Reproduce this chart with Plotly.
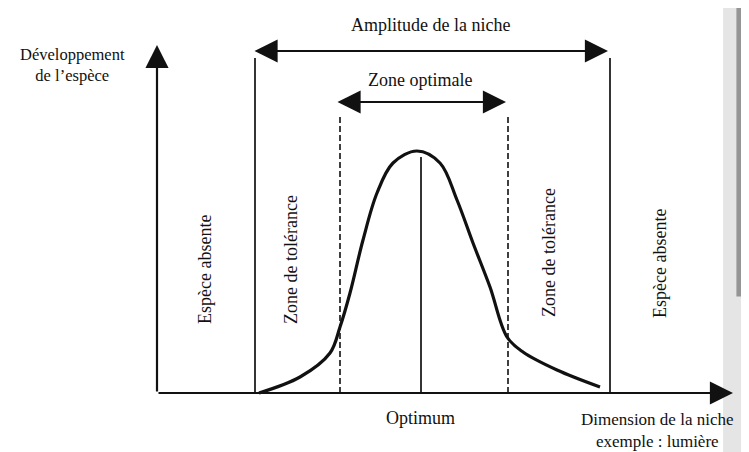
import plotly.graph_objects as go

# ---- data (diagram units: x = niche dimension, y = species development) ----
curve_x = [102, 143, 173, 183, 193, 206, 220, 236, 260, 283, 300, 316, 333, 350, 366, 400, 443]
curve_y = [0, 16, 40, 66, 100, 153, 200, 230, 242, 230, 193, 150, 106, 56, 41, 23, 6]

niche_bounds = [98, 453]        # limits of the niche amplitude
niche_top = 335
optimal_bounds = [183, 351]     # limits of the optimal zone
optimal_top = 278
optimum_x = 264
optimum_top = 236
axis_x_end = 576
axis_y_end = 348
niche_arrow_y = 342
optimal_arrow_y = 291

zone_labels = ["Espèce absente", "Zone de tolérance", "Zone de tolérance", "Espèce absente"]
zone_label_x = [48, 134, 392, 503]
zone_label_y = [123, 133, 140, 129]

FONT = "Liberation Serif"
INK = "#111111"

fig = go.Figure()

fig.add_trace(go.Scatter(
    x=curve_x, y=curve_y, mode="lines",
    line=dict(color=INK, width=3.2, shape="spline", smoothing=1.0),
    hoverinfo="skip", showlegend=False,
))

shapes = []
for xb in niche_bounds:
    shapes.append(dict(type="line", x0=xb, x1=xb, y0=0, y1=niche_top,
                       line=dict(color=INK, width=1.7)))
for xb in optimal_bounds:
    shapes.append(dict(type="line", x0=xb, x1=xb, y0=0, y1=optimal_top,
                       line=dict(color=INK, width=1.6, dash="6px,3px")))
shapes.append(dict(type="line", x0=optimum_x, x1=optimum_x, y0=0, y1=optimum_top,
                   line=dict(color=INK, width=1.7)))
# scan shadow at right edge
shapes.append(dict(type="rect", xref="paper", yref="paper", x0=0.965, x1=1.0, y0=0, y1=1,
                   fillcolor="rgba(0,0,0,0.10)", line=dict(width=0), layer="below"))
shapes.append(dict(type="rect", xref="paper", yref="paper", x0=0.983, x1=0.997, y0=0.35, y1=1,
                   fillcolor="rgba(0,0,0,0.35)", line=dict(width=0), layer="below"))

annotations = []

def arrow(x0, y0, x1, y1, both=False):
    d = dict(x=x1, y=y1, ax=x0, ay=y0, xref="x", yref="y", axref="x", ayref="y",
             showarrow=True, arrowhead=2, arrowsize=2.1, arrowwidth=2.2,
             arrowcolor=INK, text="")
    if both:
        d.update(arrowside="end+start", startarrowhead=2, startarrowsize=2.1)
    return d

annotations.append(arrow(0, 0, axis_x_end, 0))
annotations.append(arrow(0, 0, 0, axis_y_end))
annotations.append(arrow(niche_bounds[0] - 2, niche_arrow_y, niche_bounds[1] - 2, niche_arrow_y, both=True))
annotations.append(arrow(optimal_bounds[0] - 4, optimal_arrow_y, optimal_bounds[1] - 2, optimal_arrow_y, both=True))

def label(text, x, y, angle=0, align="center", size=18):
    return dict(x=x, y=y, xref="x", yref="y", text=text, showarrow=False,
                textangle=angle, align=align,
                font=dict(family=FONT, size=size, color=INK))

annotations.append(label("Amplitude de la niche", 273, 368))
annotations.append(label("Zone optimale", 263, 313))
annotations.append(label("Développement<br>de l’espèce", -85, 328, size=16.5))
annotations.append(label("Optimum", 263, -25))
annotations.append(label("Dimension de la niche<br>exemple : lumière", 500, -37, size=17))
for t, xx, yy in zip(zone_labels, zone_label_x, zone_label_y):
    annotations.append(label(t, xx, yy, angle=-90))

# page body has an 8px margin: figure is sized so it fits the 749x452 window
fig.update_layout(
    width=741, height=444,
    margin=dict(l=0, r=0, t=0, b=0),
    paper_bgcolor="white", plot_bgcolor="white",
    xaxis=dict(range=[-149, 592], visible=False, fixedrange=True),
    yaxis=dict(range=[-59, 385], visible=False, fixedrange=True),
    shapes=shapes, annotations=annotations,
    showlegend=False,
)

fig.write_html("out.html")
